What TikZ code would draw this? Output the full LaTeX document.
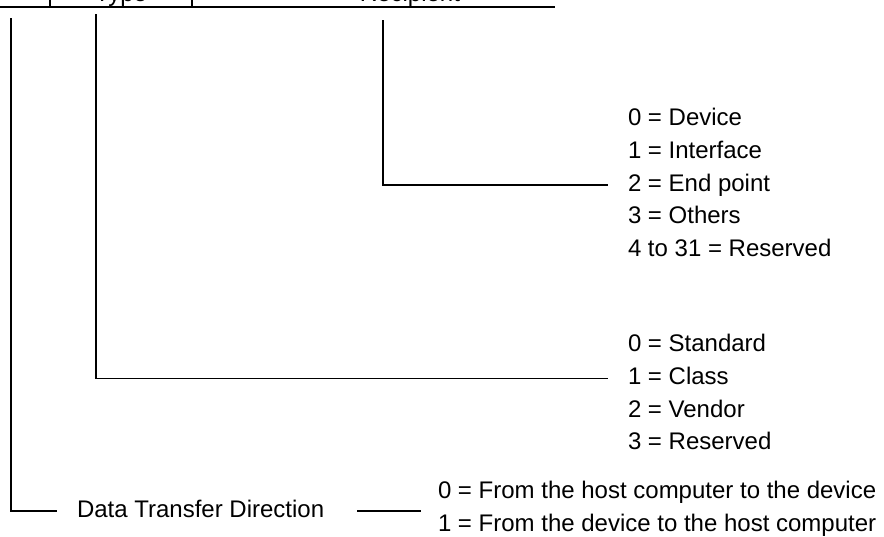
\documentclass[tikz,border=0pt]{standalone}
\usepackage{fontspec}
\setmainfont{Liberation Sans}
\usetikzlibrary{positioning}

\newcommand{\txtsize}{\fontsize{24}{28}\selectfont}

\begin{document}
\begin{tikzpicture}[
	x=1pt, y=-1pt, line width=1.3pt,
	every node/.style={font=\txtsize, inner sep=0pt, outer sep=0pt, text height=17pt, text depth=5pt},
	opt/.style = {anchor=west},
	node distance = 10.8pt and 0pt
	]
	\useasboundingbox (0,0) rectangle (884,536);
	\clip (0,0) rectangle (884,536);

	% field row, cut off at the top
	\draw (0,7) -- (555,7);
	\draw (50,0) -- (50,7);
	\draw (192,0) -- (192,7);
	\node[anchor=base] (typ) at (121,1.5) {Type};
	\node[anchor=base] (rcp) at (410,1.5) {Recipient};

	\coordinate (@dir) at (11,18);
	\coordinate (@typ) at (96,14);
	\coordinate (@rcp) at (383,20);

	% recipient
	\node[opt] (rcp0) at (628,119.5) {0 = Device};
	\node[below=of rcp0.south west,anchor=north west] (rcp1) {1 = Interface};
	\node[below=of rcp1.south west,anchor=north west] (rcp2) {2 = End point};
	\node[below=of rcp2.south west,anchor=north west] (rcp3) {3 = Others};
	\node[below=of rcp3.south west,anchor=north west] (rcp4) {4 to 31 = Reserved};
	\draw (@rcp) |- ([xshift=-20pt]rcp2.west);

	% type
	\node[opt] (typ0) at (628,345.5) {0 = Standard};
	\node[below=of typ0.south west,anchor=north west] (typ1) {1 = Class};
	\node[below=of typ1.south west,anchor=north west] (typ2) {2 = Vendor};
	\node[below=of typ2.south west,anchor=north west] (typ3) {3 = Reserved};
	\draw (@typ) |- ([xshift=-20pt]typ1.west);

	% direction
	\node[opt] (dtd) at (77,511) {Data Transfer Direction};
	\node[opt] (dir0) at (438,492.5) {0 = From the host computer to the device};
	\node[below=of dir0.south west,anchor=north west] (dir1) {1 = From the device to the host computer};
	\draw (@dir) |- ([xshift=-20pt]dtd.west);
	\draw ([xshift=33pt]dtd.east) -- ([xshift=97pt]dtd.east);

\end{tikzpicture}
\end{document}
